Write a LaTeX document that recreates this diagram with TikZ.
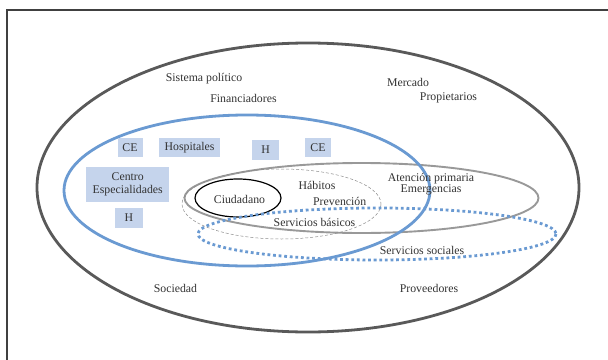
\documentclass[tikz,border=0pt]{standalone}
\usepackage{fontspec}
\setmainfont{Liberation Serif}
\begin{document}
\begin{tikzpicture}[x=1pt,y=-1pt,
  lbl/.style={text=black!80, font=\fontsize{11.8}{11}\selectfont, inner sep=1pt},
  unit/.style={lbl, fill=boxblue, minimum height=19pt, inner sep=2pt},
  outerring/.style={draw=black!65, line width=2.8pt},
  healthring/.style={draw=ringblue, line width=2.8pt},
  primring/.style={draw=black!40, line width=1.9pt},
  basicring/.style={draw=black!45, line width=0.5pt, dash pattern=on 3pt off 2pt},
  citizenring/.style={draw=black, line width=1.2pt},
  socialring/.style={draw=ringblue, line width=2.8pt, dash pattern=on 2.8pt off 2.8pt}]
\definecolor{boxblue}{HTML}{C5D4EC}
\definecolor{ringblue}{HTML}{6A9AD2}
\useasboundingbox (0,0) rectangle (608,359);
\fill[white] (0,0) rectangle (608,359);
% outer frame
\draw[black!75, line width=1.2pt] (7,10) rectangle (620,372);
% rings
\draw[outerring] (308,187.5) ellipse [x radius=271, y radius=144.5];
\draw[primring] (361.5,198) ellipse [x radius=177, y radius=35];
\draw[basicring] (281.5,204) ellipse [x radius=99.5, y radius=35];
\draw[citizenring] (238,198) ellipse [x radius=43, y radius=19];
\draw[healthring] (247,190.5) ellipse [x radius=183, y radius=75.5];
\draw[socialring] (377,234) ellipse [x radius=179, y radius=26];
% boxes
\node[unit, minimum width=25pt] (ce1) at (130,147.5) {CE};
\node[unit, minimum width=61pt] (hosp) at (189.5,147.5) {Hospitales};
\node[unit, minimum width=27.5pt, minimum height=20pt] (h1) at (265.7,150) {H};
\node[unit, minimum width=25.5pt] (ce2) at (318,147.5) {CE};
\node[unit, minimum width=83pt, minimum height=34.5pt, align=center,
      font=\fontsize{11.8}{13.4}\selectfont] (cesp) at (127.7,184.5) {Centro\\Especialidades};
\node[unit, minimum width=27.5pt, minimum height=19.5pt] (h2) at (129,218) {H};
% labels
\node[lbl] (sp) at (204,79) {Sistema político};
\node[lbl] (fin) at (243.5,98) {Financiadores};
\node[lbl] (merc) at (408,82) {Mercado};
\node[lbl] (prop) at (448.5,98) {Propietarios};
\node[lbl] (ciu) at (239.5,199.3) {Ciudadano};
\node[lbl] (hab) at (317,185) {Hábitos};
\node[lbl] (prev) at (339.7,201) {Prevención};
\node[lbl] (sb) at (314.5,222) {Servicios básicos};
\node[lbl, align=center] (ap) at (431,184.5) {Atención primaria\\Emergencias};
\node[lbl] (ss) at (422,250) {Servicios sociales};
\node[lbl] (soc) at (175.5,288) {Sociedad};
\node[lbl] (prov) at (429,288) {Proveedores};
\end{tikzpicture}
\end{document}
